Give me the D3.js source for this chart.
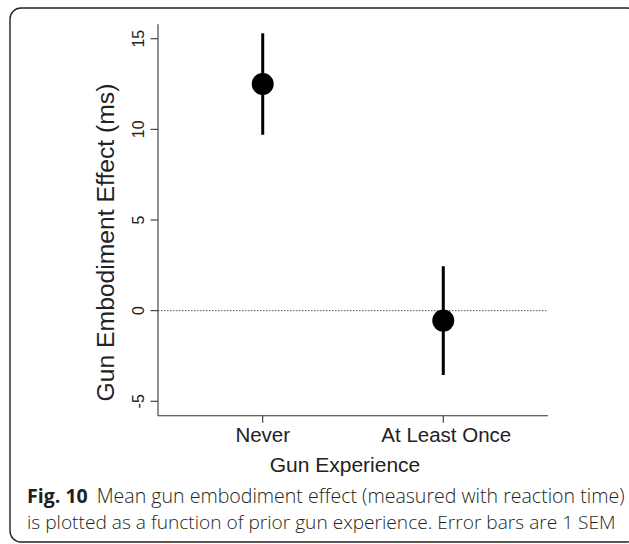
<!DOCTYPE html>
<html>
<head>
<meta charset="utf-8">
<script src="https://cdn.jsdelivr.net/npm/d3@7"></script>
<style>
  html, body { margin: 0; padding: 0; background: #fff; }
  svg { display: block; }
</style>
</head>
<body>
<svg id="chart" width="629" height="544"></svg>
<script>
// data
const groups = ["Never", "At Least Once"];
const groupPos = [1, 2];
const means = [12.5, -0.55];
const sems = [2.8, 3.0];
const yTicks = [-5, 0, 5, 10, 15];
const captionBold = "Fig. 10";
const captionLines = [
  "Mean gun embodiment effect (measured with reaction time)",
  "is plotted as a function of prior gun experience. Error bars are 1 SEM"
];

const svg = d3.select("#chart");
const plotFont = "'Liberation Sans', Arial, sans-serif";

// frame around figure + caption
svg.append("rect")
  .attr("x", 10).attr("y", 8)
  .attr("width", 628).attr("height", 534)
  .attr("rx", 11).attr("ry", 11)
  .attr("fill", "none")
  .attr("stroke", "#222")
  .attr("stroke-width", 1.4);

// R style: xlim c(0.5,2.5), ylim c(-5,15), each padded by 4%
const x = d3.scaleLinear().domain([0.42, 2.58]).range([158, 548]);
const y = d3.scaleLinear().domain([-5.8, 15.8]).range([415.8, 24.2]);

const g = svg.append("g");

// y axis (left side of the L box)
g.append("line")
  .attr("x1", x(0.42)).attr("x2", x(0.42))
  .attr("y1", y(15.8)).attr("y2", y(-5.8))
  .attr("stroke", "#333").attr("stroke-width", 1.1);
g.selectAll("line.ytick").data(yTicks).join("line")
  .attr("class", "ytick")
  .attr("x1", x(0.42) - 7.5).attr("x2", x(0.42))
  .attr("y1", d => y(d)).attr("y2", d => y(d))
  .attr("stroke", "#333").attr("stroke-width", 1.1);
g.selectAll("text.ylab").data(yTicks).join("text")
  .attr("class", "ylab")
  .attr("transform", d => `translate(143.5,${y(d)}) rotate(-90)`)
  .attr("text-anchor", "middle")
  .style("font-family", plotFont)
  .style("font-size", "16px")
  .attr("fill", "#222")
  .text(d => d);

// x axis (bottom of the L box)
g.append("line")
  .attr("x1", x(0.42)).attr("x2", x(2.58))
  .attr("y1", y(-5.8)).attr("y2", y(-5.8))
  .attr("stroke", "#333").attr("stroke-width", 1.1);
g.selectAll("line.xtick").data(groupPos).join("line")
  .attr("class", "xtick")
  .attr("x1", d => x(d)).attr("x2", d => x(d))
  .attr("y1", y(-5.8)).attr("y2", y(-5.8) + 7)
  .attr("stroke", "#333").attr("stroke-width", 1.1);
g.selectAll("text.xlab").data(groups).join("text")
  .attr("class", "xlab")
  .attr("x", (d, i) => x(groupPos[i]) + (i === 1 ? 3 : 0))
  .attr("y", 442)
  .attr("text-anchor", "middle")
  .style("font-family", plotFont)
  .style("font-size", "20.5px")
  .attr("fill", "#222")
  .text(d => d);

// axis titles
g.append("text")
  .attr("x", 345).attr("y", 471.5)
  .attr("text-anchor", "middle")
  .style("font-family", plotFont)
  .style("font-size", "21px")
  .attr("fill", "#222")
  .text("Gun Experience");
g.append("text")
  .attr("transform", "translate(114,242.5) rotate(-90)")
  .attr("text-anchor", "middle")
  .style("font-family", plotFont)
  .style("font-size", "24.7px")
  .attr("fill", "#222")
  .text("Gun Embodiment Effect (ms)");

// dotted zero line
g.append("line")
  .attr("x1", x(0.42)).attr("x2", x(2.58))
  .attr("y1", y(0)).attr("y2", y(0))
  .attr("stroke", "#555").attr("stroke-width", 1)
  .attr("stroke-dasharray", "1.5,1.5");

// error bars and means
const pts = groups.map((name, i) => ({ name, pos: groupPos[i], m: means[i], se: sems[i] }));
g.selectAll("line.err").data(pts).join("line")
  .attr("class", "err")
  .attr("x1", d => x(d.pos)).attr("x2", d => x(d.pos))
  .attr("y1", d => y(d.m + d.se)).attr("y2", d => y(d.m - d.se))
  .attr("stroke", "#000").attr("stroke-width", 3);
g.selectAll("circle.pt").data(pts).join("circle")
  .attr("class", "pt")
  .attr("cx", d => x(d.pos)).attr("cy", d => y(d.m))
  .attr("r", 11)
  .attr("fill", "#000");

// caption, each line stretched to the width seen in the figure
const capFont = "'Open Sans', 'Noto Sans', sans-serif";
const capLeft = 27, capRight = 616;
const cap1 = svg.append("text")
  .attr("x", capLeft).attr("y", 502.5)
  .style("font-family", capFont)
  .style("font-size", "18px")
  .attr("fill", "#231f20");
cap1.append("tspan").style("font-weight", "bold").text(captionBold);
cap1.append("tspan").attr("dx", 9).style("font-weight", 300).text(captionLines[0]);
const cap2 = svg.append("text")
  .attr("x", capLeft).attr("y", 528.5)
  .style("font-family", capFont)
  .style("font-size", "18px")
  .style("font-weight", 300)
  .attr("fill", "#231f20")
  .text(captionLines[1]);
[cap1, cap2].forEach(t => {
  const w = t.node().getComputedTextLength();
  t.style("font-size", (18 * (capRight - capLeft) / w).toFixed(2) + "px");
});
</script>
</body>
</html>
